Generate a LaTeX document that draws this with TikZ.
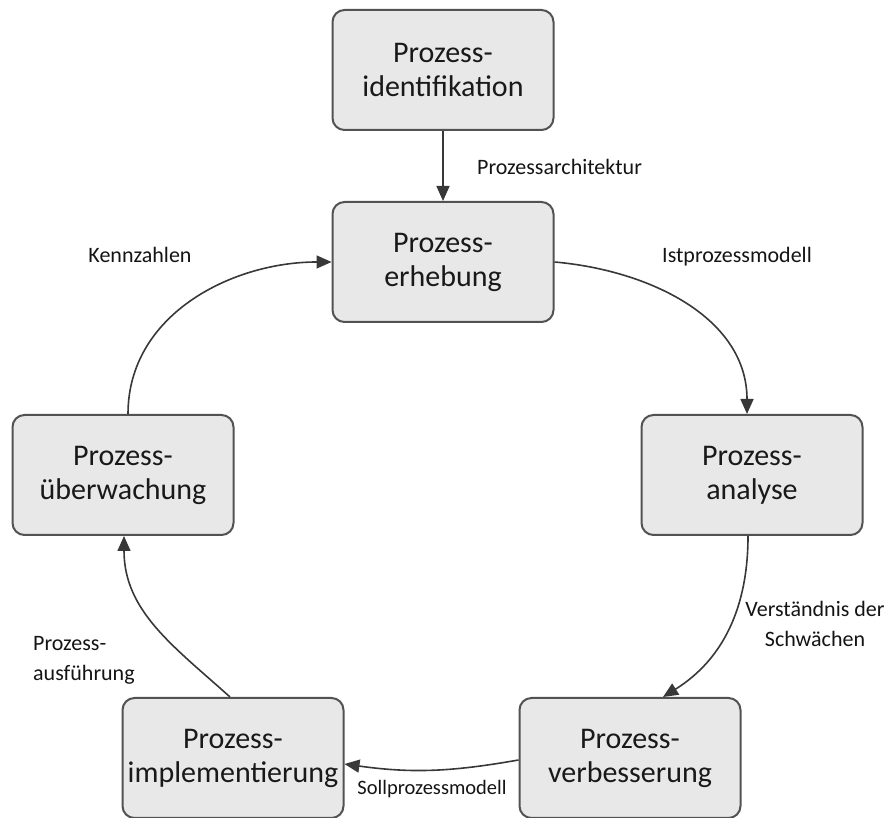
\documentclass[tikz,border=0pt]{standalone}
\usepackage{fontspec}
\setmainfont{Carlito}
\usetikzlibrary{arrows.meta}
\begin{document}
\begin{tikzpicture}[x=1pt,y=1pt,
  procbox/.style={draw=black!68, line width=2pt, fill=black!9, rounded corners=12pt,
    minimum width=221pt, minimum height=120pt, align=center,
    font=\fontsize{30}{34}\selectfont, text=black!90, inner sep=0pt},
  flow/.style={draw=black!78, line width=1.6pt, -{Triangle[length=15pt,width=13pt]}},
  lbl/.style={font=\fontsize{22}{30}\selectfont, text=black!92, inner sep=0pt}]
\useasboundingbox (0,0) rectangle (893,818);

\node[procbox] (ident) at (443,748) {Prozess-\\identifikation};
\node[procbox] (erheb) at (443,556) {Prozess-\\erhebung};
\node[procbox] (analy) at (752,343) {Prozess-\\analyse};
\node[procbox] (verb)  at (630,60)  {Prozess-\\verbesserung};
\node[procbox] (impl)  at (233,60)  {Prozess-\\implementierung};
\node[procbox] (ueber) at (123,343) {Prozess-\\überwachung};

\coordinate (analyIn)  at ([xshift=-5pt]analy.north);
\coordinate (analyOut) at ([xshift=-4pt]analy.south);
\coordinate (verbIn)   at ([xshift=33pt]verb.north);
\coordinate (verbOut)  at ([yshift=-2pt]verb.west);
\coordinate (implIn)   at ([yshift=-6pt]impl.east);
\coordinate (implOut)  at ([xshift=-3pt]impl.north);
\coordinate (ueberIn)  at ([xshift=1pt]ueber.south);
\coordinate (ueberOut) at ([xshift=5pt]ueber.north);

\draw[flow] (ident.south) -- (erheb.north);
\draw[flow] (erheb.east) to[out=-5,in=90] (analyIn);
\draw[flow] (analyOut) to[out=-90,in=32] (verbIn);
\draw[flow] (verbOut) to[out=190,in=-8] (implIn);
\draw[flow] (implOut) to[out=138,in=-90] (ueberIn);
\draw[flow] (ueberOut) to[out=90,in=180] (erheb.west);

\node[lbl, anchor=west] (lArch) at (477,651) {Prozessarchitektur};
\node[lbl, anchor=west] (lIst) at (662,561) {Istprozessmodell};
\node[lbl] (lKenn) at (140,563) {Kennzahlen};
\node[lbl, align=center] (lVer) at (815,194) {Verständnis der\\Schwächen};
\node[lbl, font=\fontsize{20.5}{28}\selectfont] (lSoll) at (432,29) {Sollprozessmodell};
\node[lbl, align=left, anchor=west] (lAus) at (33,158) {Prozess-\\ausführung};
\end{tikzpicture}
\end{document}
